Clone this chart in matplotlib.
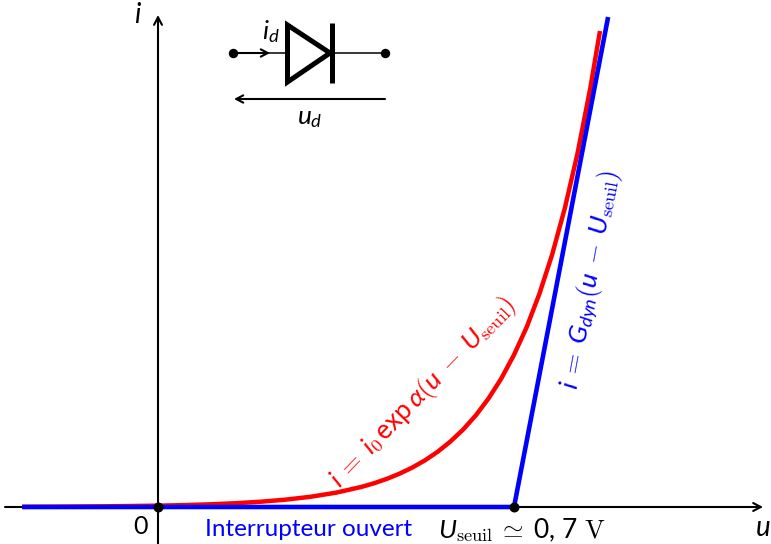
import matplotlib
matplotlib.use("Agg")
import matplotlib.pyplot as plt
from matplotlib.transforms import Affine2D
from matplotlib.patches import Polygon

plt.rcParams.update({
    "font.family": "Lato",
    "mathtext.fontset": "custom",
    "mathtext.rm": "cmr10",
    "mathtext.it": "Lato:italic",
    "mathtext.sf": "Lato",
    "mathtext.cal": "cmr10",
    "mathtext.bf": "cmr10",
    "mathtext.fallback": "cm",
    "axes.unicode_minus": False,
})

# Chart values (u in volts, i in arbitrary units)
u_exp = [-0.267, -0.2, -0.1, 0.0, 0.05, 0.1, 0.15, 0.2, 0.25, 0.3, 0.35, 0.4, 0.425, 0.45, 0.475, 0.5,
         0.525, 0.55, 0.575, 0.6, 0.625, 0.65, 0.675, 0.7, 0.725, 0.75, 0.775, 0.8, 0.825, 0.85, 0.869]
i_exp = [0.0022, 0.0035, 0.0069, 0.0135, 0.0189, 0.0265, 0.0372, 0.0521, 0.073, 0.1023, 0.1433, 0.2009,
         0.2377, 0.2815, 0.3332, 0.3946, 0.467, 0.5528, 0.655, 0.7748, 0.917, 1.086, 1.285, 1.522,
         1.80, 2.133, 2.525, 2.99, 3.54, 4.19, 4.76]
u_model = [-0.267, 0.7, 0.885]
i_model = [0.0, 0.0, 4.90]
u_points = [0.0, 0.7]
i_points = [0.0, 0.0]

W, H = 771, 544
fig = plt.figure(figsize=(W / 100, H / 100), dpi=100)
ax = fig.add_axes([0, 0, 1, 1])
ax.set_xlim(-158 / 508.6, (W - 158) / 508.6)
ax.set_ylim(-37 / 100, 507 / 100)
ax.axis("off")

px = Affine2D().scale(1, -1).translate(0, H)  # picture pixels to display


def arrow(p0, p1, lw=1.5, z=2, ms=13):
    ax.annotate("", xy=p1, xytext=p0, xycoords=px, textcoords=px, zorder=z,
                arrowprops=dict(arrowstyle="->,head_length=0.42,head_width=0.22", lw=lw,
                                color="black", shrinkA=0, shrinkB=0, mutation_scale=ms))


def label(x, y, s, size=15, color="black", rot=0, ha="center", va="center"):
    ax.text(x, y, s, transform=px, fontsize=size, color=color, rotation=rot,
            ha=ha, va=va, rotation_mode="anchor", zorder=6)


# Axes
arrow((5, 507), (763, 507), z=2)
arrow((158, 544), (158, 15), z=2)

# Curves
ax.plot(u_exp, i_exp, color="#ff0000", lw=3.2, solid_capstyle="butt", solid_joinstyle="round", zorder=3)
ax.plot(u_model, i_model, color="#0000ff", lw=3.3, solid_capstyle="butt", solid_joinstyle="miter", zorder=4)
ax.plot(u_points, i_points, "o", color="black", ms=7.2, mew=0, zorder=5)

# Diode symbol
ax.plot([233, 385], [53, 53], color="black", lw=1.1, transform=px, zorder=2)
ax.plot([233, 385], [53, 53], "o", color="black", ms=6.8, mew=0, transform=px, zorder=3)
arrow((233, 53), (270, 53), lw=1.5, ms=12)
ax.add_patch(Polygon([[287.5, 25], [287.5, 82], [330, 53]], closed=True, fc="white", ec="black",
                     lw=3.6, transform=px, zorder=3, joinstyle="miter"))
ax.plot([332, 332], [23, 83], color="black", lw=3.6, solid_capstyle="butt", transform=px, zorder=4)
arrow((385, 99), (234, 99), lw=1.5, ms=12)

# Labels
label(138, 15, r"$i$", size=20)
label(763, 528, r"$u$", size=20)
label(141, 526, "0", size=18)
label(271, 32, r"$i_{d}$", size=19)
label(310, 117, r"$u_{d}$", size=19)
label(309, 530, "Interrupteur ouvert", size=17.5, color="#0000ff")
label(522, 530, r"$U_{\mathrm{seuil}}\;\simeq\;\mathsf{0,\,7}\,\,\mathrm{V}$", size=19)
label(335, 484, r"$i\;=\;i_{0}\,\mathsf{exp}\,\alpha(u\;-\;U_{\mathrm{seuil}})$", size=19,
      color="#ff0000", rot=46, ha="left", va="center")
label(571, 389, r"$i\;=\;G_{dyn}(u\;-\;U_{\mathrm{seuil}})$", size=19,
      color="#0000ff", rot=79.5, ha="left", va="center")

fig.savefig("out.png", dpi=100)
